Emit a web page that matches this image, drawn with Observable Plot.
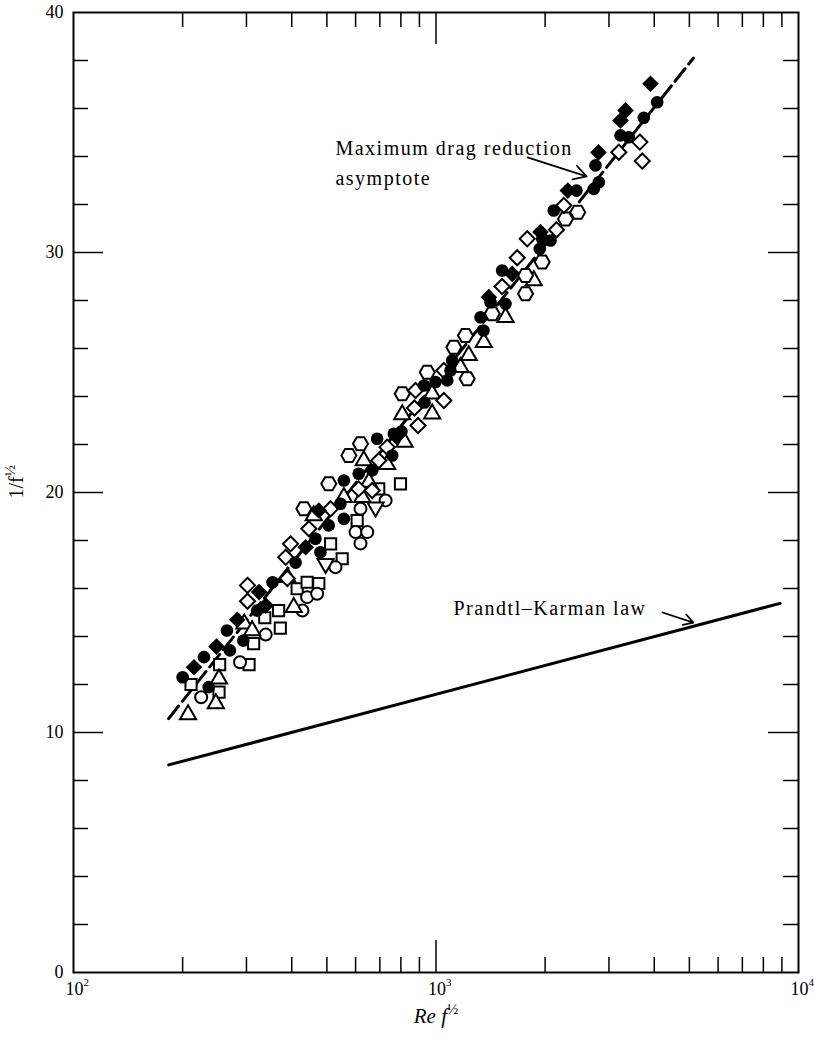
<!DOCTYPE html>
<html>
<head>
<meta charset="utf-8">
<script src="https://cdn.jsdelivr.net/npm/d3@7"></script>
<script src="https://cdn.jsdelivr.net/npm/@observablehq/plot@0.6"></script>
<style>
  body { margin: 0; background: #fff; }
  .ann text { letter-spacing: 1.5px; }
</style>
</head>
<body>
<div id="chart"></div>
<script>
// ---- Data (x = Re f^1/2, y = 1/f^1/2) ----
const filledCircleX = [200,229,236,265,270,294,321,354,410,465,480,506,545,557,557,612,667,688,757,765,803,930,927,997,1074,1108,1096,1327,1352,1414,1555,1522,1933,1963,2070,2113,2441,2725,2812,2754,3228,3403,3743,4075];
const filledCircleY = [12.30,13.14,11.89,14.25,13.42,13.83,15.08,16.26,17.08,18.07,17.51,18.63,19.53,18.90,20.50,20.78,20.92,22.24,21.54,22.45,22.54,23.75,24.46,24.60,24.67,25.50,25.08,27.30,26.75,27.93,27.86,29.25,30.15,30.57,30.50,31.75,32.58,32.65,32.93,33.63,34.88,34.80,35.61,36.26];

const filledDiamondX = [215,248,283,325,339,437,475,778,1399,1623,1942,2310,2807,3228,3333,3906];
const filledDiamondY = [12.72,13.58,14.70,15.85,15.29,17.72,19.25,22.33,28.14,29.11,30.85,32.58,34.17,35.50,35.92,37.03];

const openDiamondX = [302,302,389,385,397,446,512,612,667,695,733,892,872,878,1051,1051,1522,1675,1785,2150,2252,3194,3706,3650];
const openDiamondY = [16.13,15.47,16.42,17.30,17.86,18.49,19.32,20.15,20.08,21.33,21.89,22.79,23.52,24.25,23.83,25.08,28.58,29.78,30.57,30.95,31.96,34.18,33.81,34.60];

const openSquareX = [211,252,253,305,314,337,368,372,414,441,475,512,551,606,695,798];
const openSquareY = [12.00,11.68,12.83,12.83,13.70,14.78,15.08,14.35,15.99,16.26,16.21,17.86,17.24,18.83,20.15,20.36];

const openCircleX = [225,288,339,428,441,470,528,600,646,619,619,726];
const openCircleY = [11.47,12.93,14.08,15.08,15.64,15.78,16.89,18.35,18.35,17.88,19.32,19.67];

const openTriangleX = [207,247,252,296,311,389,405,460,557,626,632,653,733,807,819,976,976,1168,1231,1355,1555,1861];
const openTriangleY = [10.75,11.20,12.24,14.53,14.25,16.47,15.22,19.04,19.80,19.80,21.33,20.43,21.17,23.25,22.10,23.28,24.11,25.22,25.71,26.26,27.30,28.83];

const invTriangleX = [496,681];
const invTriangleY = [17.03,19.39];

const hexagonX = [432,506,575,619,807,946,1120,1206,1219,1429,1766,1766,1963,2276,2461];
const hexagonY = [19.32,20.36,21.54,22.03,24.11,25.01,26.05,26.54,24.74,27.45,28.28,29.04,29.60,31.40,31.68];

// Lines
const mdrX = [183, 5130];   // Maximum drag reduction asymptote
const mdrY = [10.58, 38.10];
const pkX = [183, 8900];    // Prandtl–Karman law
const pkY = [8.65, 15.38];

// Ticks
const xMinorTicks = [200,300,400,500,600,700,800,900,2000,3000,4000,5000,6000,7000,8000,9000];
const xMajorTicks = [1000];
const xTickLabels = [100, 1000, 10000];
const xTickExponents = ["2", "3", "4"];
const yMinorTicks = [2,4,6,8,12,14,16,18,22,24,26,28,32,34,36,38];
const yMajorTicks = [10,20,30];
const yTickLabels = [0,10,20,30,40];

// Annotations
const mdrLabel = [{x: 528, y: 34.97, text: "Maximum drag reduction\nasymptote"}];
const mdrArrow = [{x1: 1788, y1: 33.96, x2: 2602, y2: 33.17}];
const pkLabel = [{x: 1117, y: 15.17, text: "Prandtl\u2013Karman law"}];
const pkArrow = [{x1: 4215, y1: 15.0, x2: 5132, y2: 14.58}];

const toPts = (xs, ys) => xs.map((x, i) => ({x, y: ys[i]}));

const W = 814, H = 1041;
const mL = 73, mR = 16, mT = 12, mB = 69;
const fw = W - mL - mR, fh = H - mT - mB;

const openStyle = {x: "x", y: "y", fill: "white", stroke: "black", strokeWidth: 2};
const serif = "Liberation Serif, Times New Roman, serif";

const plot = Plot.plot({
  width: W, height: H,
  marginLeft: mL, marginRight: mR, marginTop: mT, marginBottom: mB,
  style: {fontFamily: serif, fontSize: "18px", background: "white", color: "black"},
  x: {type: "log", domain: [100, 10000], axis: null},
  y: {domain: [0, 40], axis: null},
  marks: [
    // ticks (inside)
    Plot.ruleX(xMinorTicks, {x: d => d, insetTop: fh - 15, stroke: "black", strokeWidth: 1.5}),
    Plot.ruleX(xMinorTicks, {x: d => d, insetBottom: fh - 15, stroke: "black", strokeWidth: 1.5}),
    Plot.ruleX(xMajorTicks, {x: d => d, insetTop: fh - 32, stroke: "black", strokeWidth: 1.5}),
    Plot.ruleX(xMajorTicks, {x: d => d, insetBottom: fh - 32, stroke: "black", strokeWidth: 1.5}),
    Plot.ruleY(yMinorTicks, {y: d => d, insetRight: fw - 15, stroke: "black", strokeWidth: 1.5}),
    Plot.ruleY(yMinorTicks, {y: d => d, insetLeft: fw - 15, stroke: "black", strokeWidth: 1.5}),
    Plot.ruleY(yMajorTicks, {y: d => d, insetRight: fw - 30, stroke: "black", strokeWidth: 1.5}),
    Plot.ruleY(yMajorTicks, {y: d => d, insetLeft: fw - 30, stroke: "black", strokeWidth: 1.5}),
    Plot.frame({stroke: "black", strokeWidth: 2}),

    // tick labels
    Plot.axisY({ticks: yTickLabels, tickSize: 0, tickPadding: 10, fontSize: 18, label: null}),
    Plot.text(xTickLabels, {x: d => d, y: () => 0, text: () => "10", textAnchor: "end", lineAnchor: "top", dy: 10, dx: 10, fontSize: 18}),
    Plot.text(xTickLabels, {x: d => d, y: () => 0, text: (d, i) => xTickExponents[i], textAnchor: "start", lineAnchor: "top", dy: 6, dx: 10, fontSize: 11}),

    // lines
    Plot.line(toPts(pkX, pkY), {x: "x", y: "y", stroke: "black", strokeWidth: 3}),
    Plot.line(toPts(mdrX, mdrY), {x: "x", y: "y", stroke: "black", strokeWidth: 3, strokeDasharray: "16,6"}),

    // markers
    Plot.dot(toPts(openSquareX, openSquareY), {...openStyle, symbol: "square", r: 6.3}),
    Plot.dot(toPts(openCircleX, openCircleY), {...openStyle, symbol: "circle", r: 6}),
    Plot.dot(toPts(openTriangleX, openTriangleY), {...openStyle, symbol: "triangle", r: 6}),
    Plot.dot(toPts(invTriangleX, invTriangleY), {...openStyle, symbol: "triangle", r: 6, rotate: 180}),
    Plot.dot(toPts(hexagonX, hexagonY), {...openStyle, symbol: "hexagon", r: 6.5, rotate: 90}),
    Plot.dot(toPts(openDiamondX, openDiamondY), {...openStyle, symbol: "diamond2", r: 6.8}),
    Plot.dot(toPts(filledCircleX, filledCircleY), {x: "x", y: "y", symbol: "circle", r: 6.3, fill: "black", stroke: "none"}),
    Plot.dot(toPts(filledDiamondX, filledDiamondY), {x: "x", y: "y", symbol: "diamond2", r: 7.5, fill: "black", stroke: "none"}),

    // annotations
    Plot.text(mdrLabel, {x: "x", y: "y", text: "text", textAnchor: "start", lineAnchor: "top", lineHeight: 1.5, fontSize: 20, className: "ann"}),
    Plot.arrow(mdrArrow, {x1: "x1", y1: "y1", x2: "x2", y2: "y2", stroke: "black", strokeWidth: 1.8, headLength: 12}),
    Plot.text(pkLabel, {x: "x", y: "y", text: "text", textAnchor: "start", lineAnchor: "middle", fontSize: 20, className: "ann"}),
    Plot.arrow(pkArrow, {x1: "x1", y1: "y1", x2: "x2", y2: "y2", stroke: "black", strokeWidth: 1.8, headLength: 12}),

    // axis titles
    Plot.text(["y"], {frameAnchor: "left", dx: -57, dy: 6, rotate: -90, text: () => "1/f", fontSize: 20, className: "ylab"}),
    Plot.text(["x"], {frameAnchor: "bottom", dy: 50, text: () => "Re f", fontSize: 21, fontStyle: "italic", className: "xlab"})
  ]
});

document.getElementById("chart").appendChild(plot);

// add the ½ exponent to the axis titles as real text
const svg = d3.select(plot);
svg.selectAll(".ylab text, .xlab text").each(function () {
  d3.select(this).append("tspan").attr("dy", "-0.55em").attr("font-size", "15px").attr("font-style", "normal").text("\u00BD");
});
</script>
</body>
</html>
